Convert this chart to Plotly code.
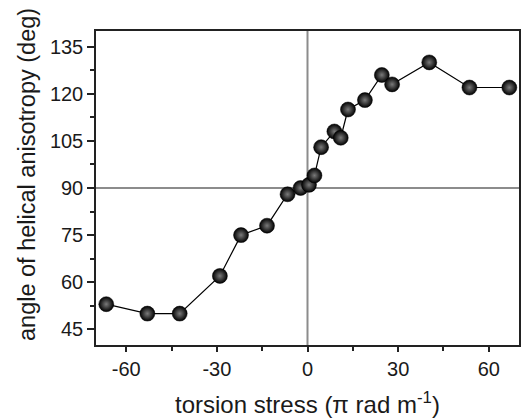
import plotly.graph_objects as go

x_stress = [-66.6, -53, -42.3, -29, -22, -13.4, -6.6, -2.3, 0.5, 2.3, 4.5, 8.9, 11, 13.4, 19, 24.6, 28, 40.3, 53.6, 66.8]
y_angle = [53, 50, 50, 62, 75, 78, 88, 90, 91, 94, 103, 108, 106, 115, 118, 126, 123, 130, 122, 122]

x_ticks = [-60, -30, 0, 30, 60]
x_ticktext = ["-60", "-30", "0", "30", "60"]
y_ticks = [45, 60, 75, 90, 105, 120, 135]

x_title = "torsion stress (π rad m<sup>-1</sup>)"
y_title = "angle of helical anisotropy (deg)"

font_family = "Liberation Sans, Arial, sans-serif"

fig = go.Figure()
fig.add_trace(go.Scatter(
    x=x_stress, y=y_angle, mode="lines+markers",
    line=dict(color="black", width=1.2),
    marker=dict(size=15, color="#000000",
                gradient=dict(type="radial", color="#7a7a7a"),
                line=dict(width=0.5, color="#000")),
    showlegend=False,
))

fig.add_vline(x=0, line=dict(color="#8c8c8c", width=2), layer="below")
fig.add_hline(y=90, line=dict(color="#8c8c8c", width=2), layer="below")

fig.update_layout(
    width=522, height=420,
    margin=dict(l=96, r=1, t=31, b=75),
    paper_bgcolor="white", plot_bgcolor="white",
    font=dict(family=font_family, color="#1a1a1a"),
    annotations=[
        dict(text=x_title, xref="paper", yref="paper", x=0.5, y=0,
             xanchor="center", yanchor="top", yshift=-41, showarrow=False,
             font=dict(size=24)),
        dict(text=y_title, xref="paper", yref="paper", x=0, y=0.5,
             xanchor="center", yanchor="middle", xshift=-69, yshift=13,
             textangle=-90, showarrow=False, font=dict(size=23.5)),
    ],
)
fig.update_xaxes(
    range=[-70, 70], tickvals=x_ticks, ticktext=x_ticktext,
    ticks="outside", ticklen=5, tickwidth=1.5,
    tickcolor="#222", showgrid=False, zeroline=False,
    showline=True, linecolor="#222", linewidth=1.5, mirror=True,
    tickfont=dict(size=20), ticklabelstandoff=0,
    minor=dict(tickvals=[-45, -15, 15, 45], ticks="outside", ticklen=4, tickcolor="#222", tickwidth=1.5),
)
fig.update_yaxes(
    range=[40, 140], tickvals=y_ticks, ticks="outside", ticklen=7, tickwidth=1.5,
    tickcolor="#222", showgrid=False, zeroline=False,
    showline=True, linecolor="#222", linewidth=1.5, mirror=True,
    tickfont=dict(size=20), ticklabelstandoff=0,
    minor=dict(tickvals=[52.5, 67.5, 82.5, 97.5, 112.5, 127.5], ticks="outside", ticklen=4, tickcolor="#222", tickwidth=1.5),
)

fig.write_html("out.html")
